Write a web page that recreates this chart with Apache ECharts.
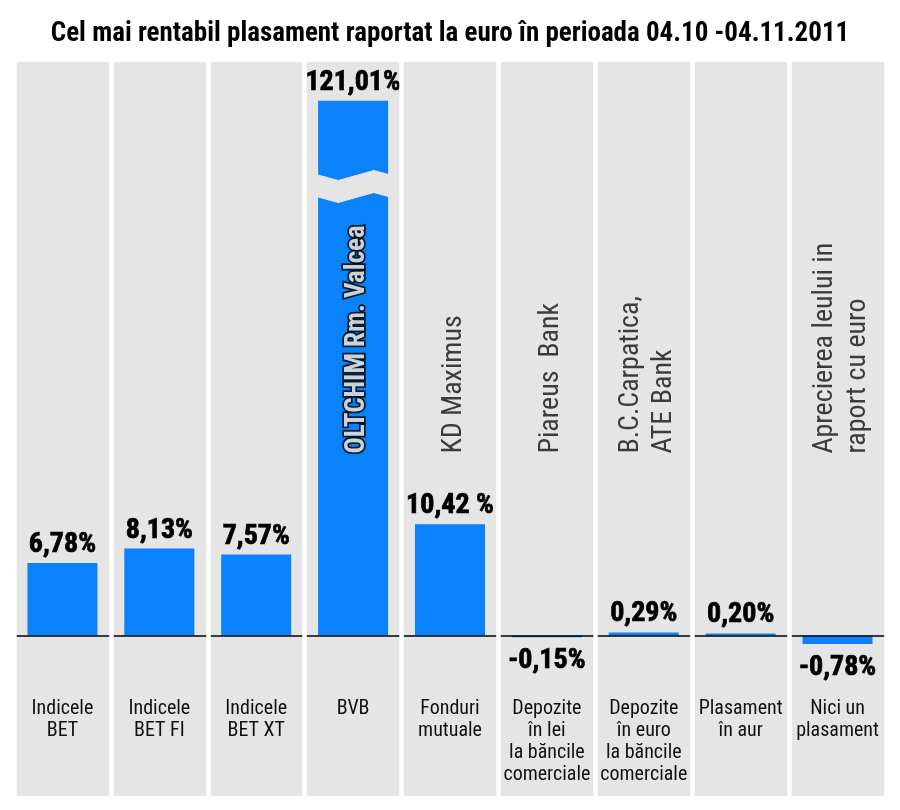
<!DOCTYPE html>
<html>
<head>
<meta charset="utf-8">
<script src="https://cdn.jsdelivr.net/npm/echarts@6.0.0/dist/echarts.min.js"></script>
<style>
  html, body { margin: 0; padding: 0; background: #ffffff; }
  #chart { width: 900px; height: 810px; }
</style>
</head>
<body>
<div id="chart"></div>
<script>
// ---- data ----
const categories = [
  'Indicele\nBET', 'Indicele\nBET FI', 'Indicele\nBET XT', 'BVB', 'Fonduri\nmutuale',
  'Depozite\nîn lei\nla băncile\ncomerciale', 'Depozite\nîn euro\nla băncile\ncomerciale',
  'Plasament\nîn aur', 'Nici un\nplasament'
];
const returns = [6.78, 8.13, 7.57, 121.01, 10.42, -0.15, 0.29, 0.20, -0.78];
const valueLabels = ['6,78%', '8,13%', '7,57%', '121,01%', '10,42 %', '-0,15%', '0,29%', '0,20%', '-0,78%'];
const bestPicks = ['', '', '', 'OLTCHIM Rm. Valcea', 'KD Maximus', 'Piareus  Bank',
  'B.C.Carpatica,\nATE Bank', '', 'Aprecierea leului in\nraport cu euro'];
const titleText = 'Cel mai rentabil plasament raportat la euro în perioada 04.10 -04.11.2011';

// ---- styling / layout ----
const COND = '"Roboto Condensed", "Open Sans Condensed", "DejaVu Sans Condensed", sans-serif';
const BLUE = '#0a82fa';
const GRAY = '#e5e5e5';
const NOTE_ANCHOR = 17.2;

const chart = echarts.init(document.getElementById('chart'), null, { renderer: 'canvas' });

const barData = returns.map((v, i) => ({
  value: v,
  label: {
    show: true,
    position: v >= 0 ? 'top' : 'bottom',
    distance: v >= 0 ? 4 : 10,
    formatter: () => valueLabels[i]
  }
}));

const noteData = bestPicks.map((t, i) => {
  const special = i === 3;
  return {
    value: [i, NOTE_ANCHOR],
    label: {
      show: t !== '',
      formatter: () => t,
      rotate: 90,
      align: 'left',
      verticalAlign: 'middle',
      position: 'inside',
      offset: [-2, 4],
      fontFamily: COND,
      fontSize: special ? 27 : 28,
      fontWeight: special ? 'bold' : 'normal',
      color: special ? '#ffffff' : '#111111',
      textBorderColor: special ? '#000000' : 'transparent',
      textBorderWidth: special ? 3.5 : 0,
      lineHeight: 33
    }
  };
});

const option = {
  animation: false,
  backgroundColor: '#ffffff',
  title: {
    text: titleText,
    left: 'center',
    top: 16,
    textStyle: { fontFamily: COND, fontSize: 27, fontWeight: 'bold', color: '#000' }
  },
  grid: {
    left: 14, right: 14, top: 62, bottom: 14,
    show: true, backgroundColor: GRAY, borderWidth: 0, borderColor: 'transparent',
    outerBoundsMode: 'none', containLabel: false
  },
  xAxis: [
    {
      type: 'category',
      data: categories,
      position: 'bottom',
      axisLine: { show: false, onZero: false },
      axisTick: { show: false },
      splitLine: { show: true, interval: 0, lineStyle: { color: '#ffffff', width: 4.5 } },
      axisLabel: {
        interval: 0,
        inside: true,
        margin: 98,
        verticalAlign: 'top',
        fontFamily: COND,
        fontSize: 20,
        lineHeight: 22,
        color: '#111'
      },
      z: 150
    },
    { type: 'category', data: categories, show: false }
  ],
  yAxis: {
    type: 'value',
    min: -15,
    max: 124.63,
    axisLine: { show: false },
    axisTick: { show: false },
    axisLabel: { show: false },
    splitLine: { show: false },
    breaks: [{ start: 41, end: 114, gap: 2, isExpanded: false }],
    breakArea: {
      show: true,
      expandOnClick: false,
      zigzagAmplitude: 5,
      zigzagMinSpan: 36,
      zigzagMaxSpan: 36,
      itemStyle: { color: GRAY, borderColor: GRAY, borderWidth: 1, borderType: 'solid', opacity: 1 }
    }
  },
  series: [
    {
      name: 'randament',
      type: 'bar',
      xAxisIndex: 1,
      data: barData,
      barWidth: 70,
      itemStyle: { color: BLUE },
      label: {
        fontFamily: COND,
        fontSize: 28,
        fontWeight: 'bold',
        color: '#000',
        textBorderColor: '#000',
        textBorderWidth: 0.7
      }
    },
    {
      name: 'cel mai bun',
      type: 'scatter',
      xAxisIndex: 0,
      data: noteData,
      symbolSize: 0,
      silent: true,
      z: 10
    },
    {
      name: 'zero',
      type: 'line',
      xAxisIndex: 0,
      data: [],
      z: 160,
      markLine: {
        silent: true,
        symbol: ['none', 'none'],
        label: { show: false },
        lineStyle: { color: '#000', width: 1.5, type: 'solid' },
        data: [{ yAxis: 0 }]
      }
    }
  ]
};

chart.setOption(option);
</script>
</body>
</html>
